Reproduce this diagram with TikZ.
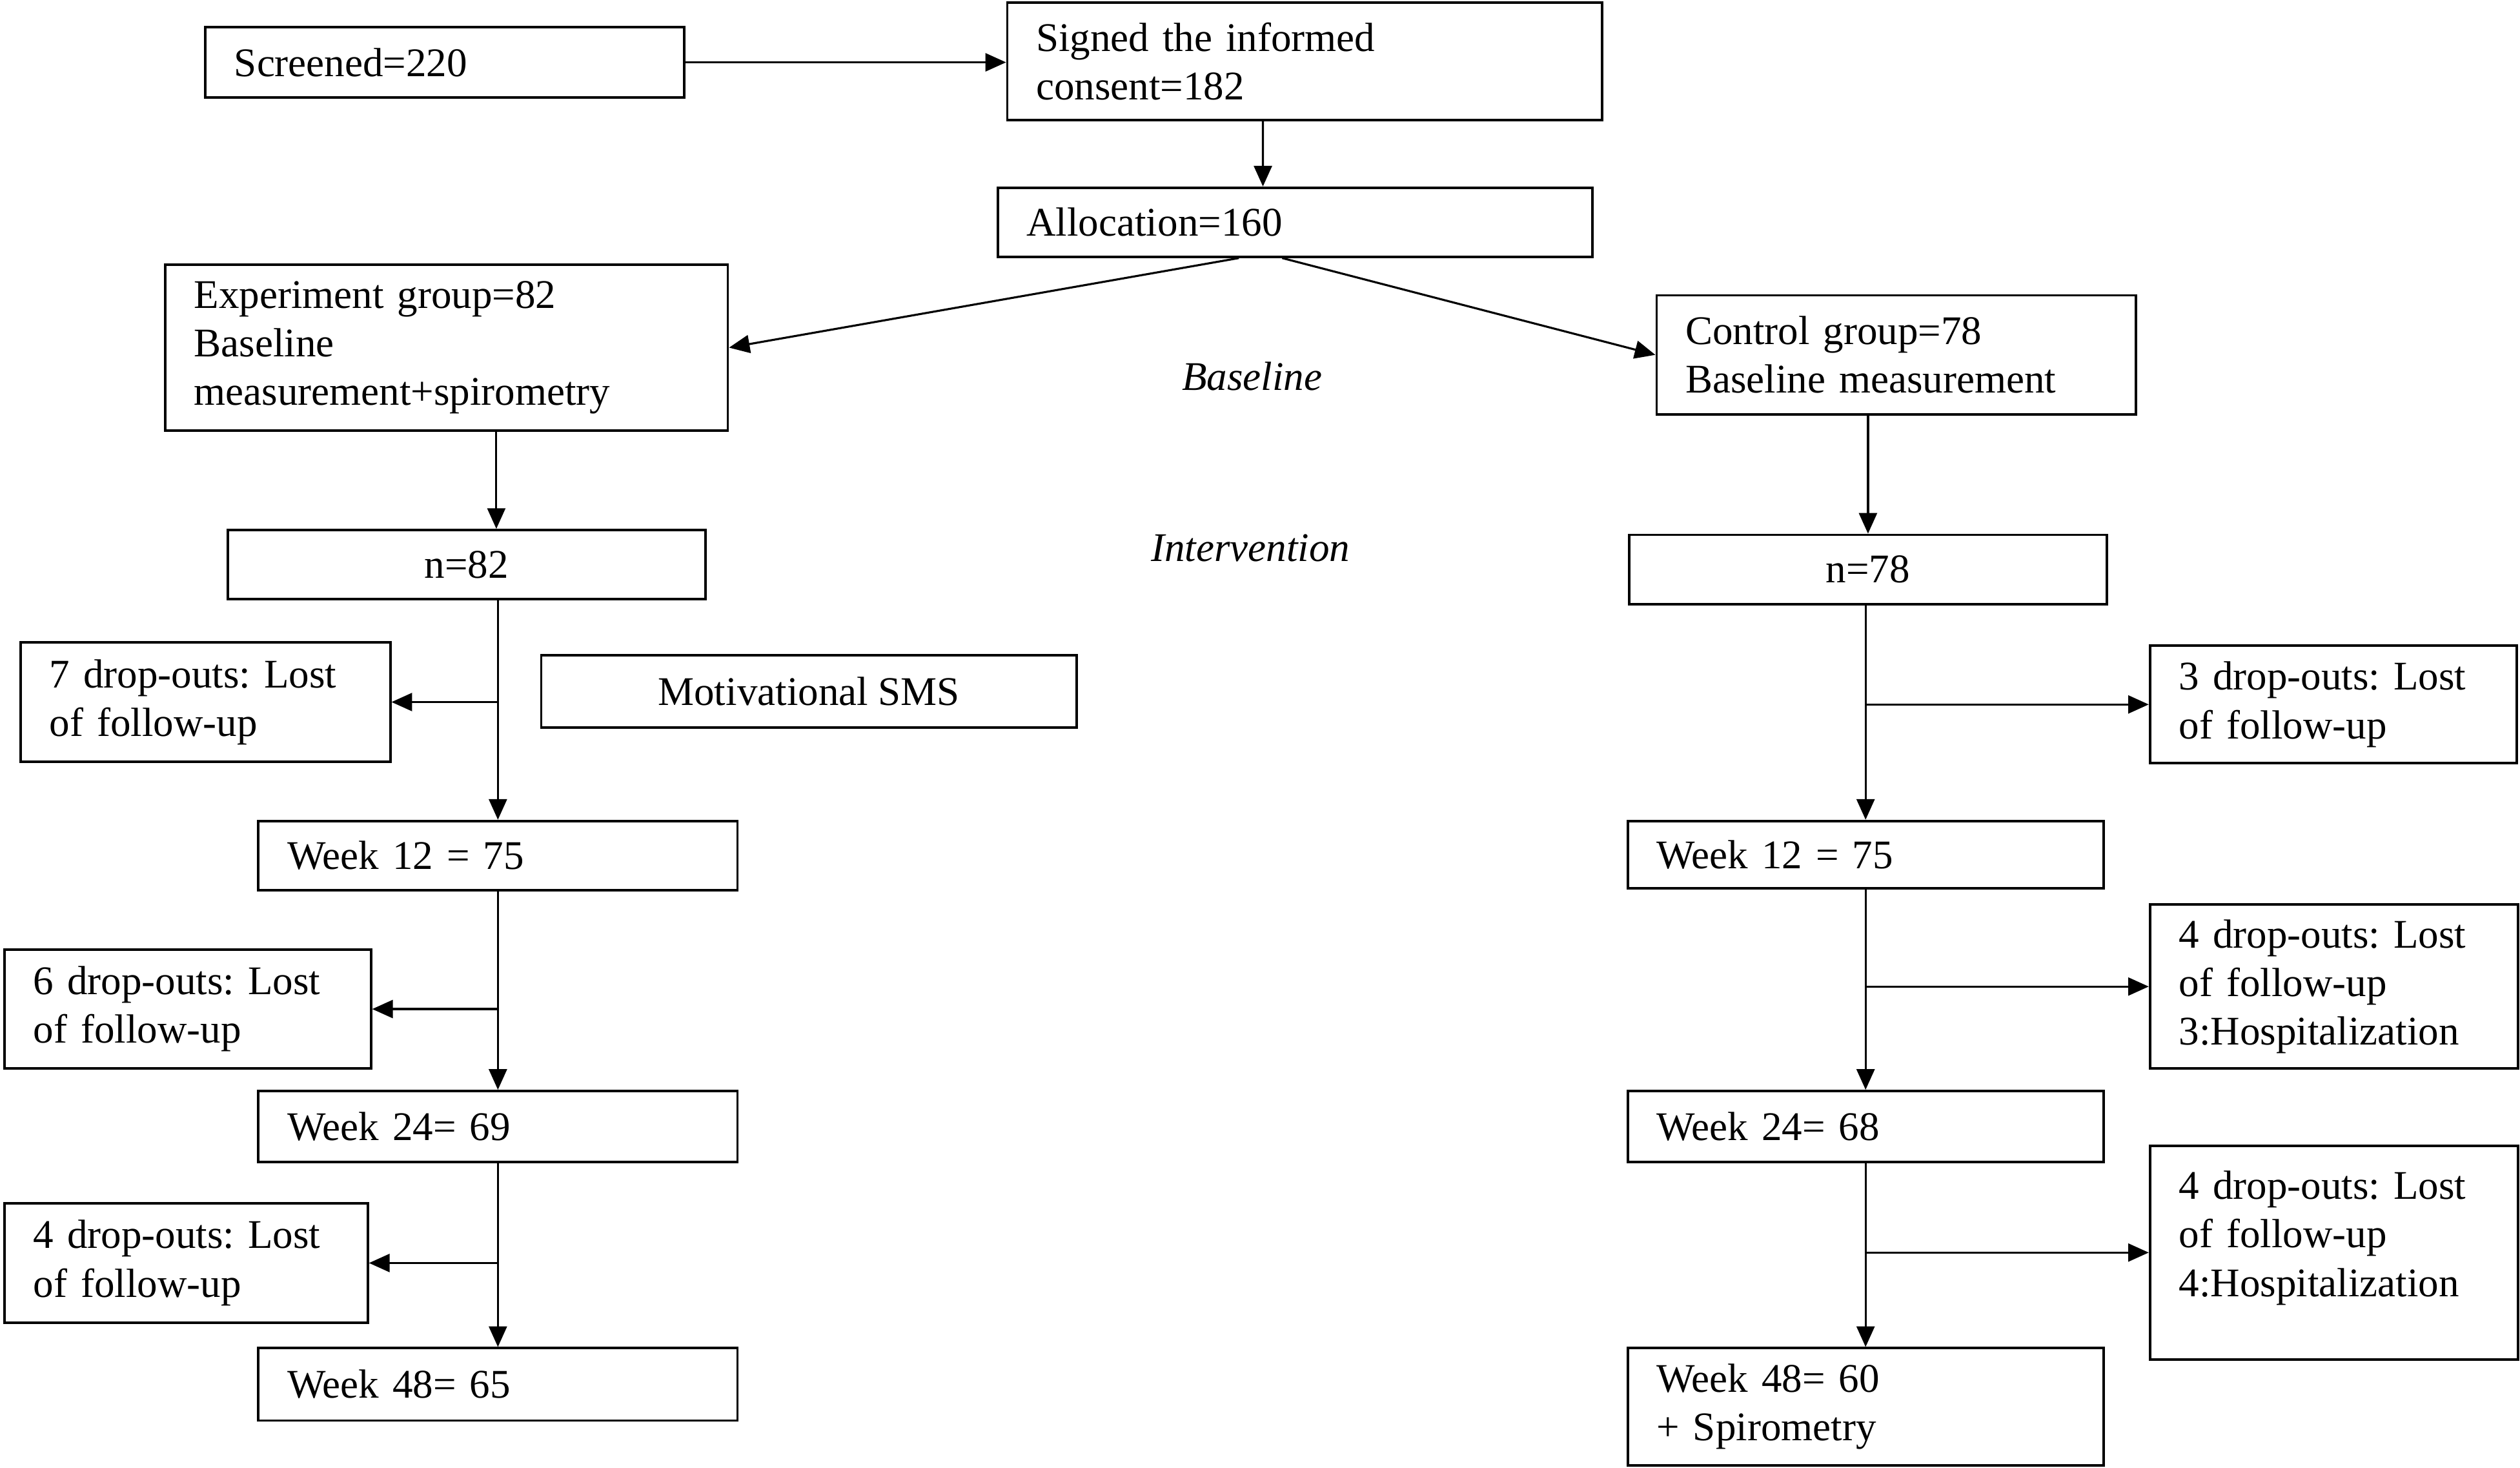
\documentclass[tikz,border=0pt]{standalone}
\usepackage{fontspec}
\setmainfont{Liberation Serif}
\usetikzlibrary{arrows.meta}
\frenchspacing

\begin{document}
\begin{tikzpicture}[x=0.025cm,y=-0.025cm,
  font=\fontsize{18}{21.5}\selectfont,
  box/.style={draw,line width=1.1pt,anchor=north west,align=left,inner xsep=0.45cm,inner ysep=0pt},
  cbox/.style={draw,line width=1.1pt,anchor=north west,align=center,inner sep=0pt},
  stage/.style={font=\fontsize{18}{21.5}\selectfont\itshape},
  arr/.style={line width=0.9pt,-{Triangle[length=0.32cm,width=0.28cm]}}]

\useasboundingbox (0,0) rectangle (1568,913);

%% enrolment
\node[box,text width=6.55cm,minimum height=1.1cm] (scr) at (127,16) {Screened=220};
\node[box,text width=8.35cm,minimum height=1.825cm] (sig) at (626,1) {Signed the informed\\consent=182};
\node[box,text width=8.35cm,minimum height=1.075cm] (alloc) at (620,116) {Allocation=160};
\node[box,text width=7.85cm,minimum height=2.575cm] (exp) at (102,164) {Experiment group=82\\Baseline\\measurement+spirometry};
\node[box,text width=6.55cm,minimum height=1.85cm] (ctl) at (1030,183) {Control group=78\\Baseline measurement};
\node[stage] (base) at (779,234) {Baseline};
\node[stage] (interv) at (778,341) {Intervention};

%% experiment arm
\node[cbox,minimum width=7.425cm,minimum height=1.075cm] (n82) at (141,329) {n=82};
\node[box,text width=4.85cm,minimum height=1.85cm] (drop7) at (12,399) {7 drop-outs: Lost\\of follow-up};
\node[cbox,minimum width=8.325cm,minimum height=1.125cm] (sms) at (336,407) {Motivational SMS};
\node[box,text width=6.55cm,minimum height=1.075cm] (wkA12) at (160,510) {Week 12 = 75};
\node[box,text width=4.8cm,minimum height=1.85cm] (drop6) at (2,590) {6 drop-outs: Lost\\of follow-up};
\node[box,text width=6.55cm,minimum height=1.1cm] (wkA24) at (160,678) {Week 24= 69};
\node[box,text width=4.75cm,minimum height=1.85cm] (drop4) at (2,748) {4 drop-outs: Lost\\of follow-up};
\node[box,text width=6.55cm,minimum height=1.125cm] (wkA48) at (160,838) {Week 48= 65};

%% control arm
\node[cbox,minimum width=7.425cm,minimum height=1.075cm] (n78) at (1013,332) {n=78};
\node[box,text width=4.8cm,minimum height=1.825cm] (drop3) at (1337,401) {3 drop-outs: Lost\\of follow-up};
\node[box,text width=6.5cm,minimum height=1.05cm] (wkB12) at (1012,510) {Week 12 = 75};
\node[box,text width=4.825cm,minimum height=2.55cm] (drop4a) at (1337,562) {4 drop-outs: Lost\\of follow-up\\3:Hospitalization};
\node[box,text width=6.5cm,minimum height=1.1cm] (wkB24) at (1012,678) {Week 24= 68};
\node[box,text width=4.825cm,minimum height=3.325cm] (drop4b) at (1337,712) {4 drop-outs: Lost\\of follow-up\\4:Hospitalization\\[-0.17cm]~};
\node[box,text width=6.5cm,minimum height=1.825cm] (wkB48) at (1012,838) {Week 48= 60\\+ Spirometry};

%%% arrows
\draw[arr] (scr.east) -- (scr.east -| sig.west);
\draw[arr] ([xshift=-0.65cm]sig.south) -- ([xshift=-0.5cm]alloc.north);
\draw[arr] ([xshift=-0.875cm]alloc.south) -- (exp.east);
\draw[arr] ([xshift=-0.2cm]alloc.south) -- (ctl.west);

\draw[arr] ([xshift=0.775cm]exp.south) -- ([xshift=0.775cm]exp.south |- n82.north);
\draw[arr] (n82.south -| wkA12) -- (wkA12.north);
\draw[arr] (drop7.east -| wkA12) -- (drop7.east);
\draw[arr] (wkA12) -- (wkA24);
\draw[arr] (drop6.east -| wkA12) -- (drop6.east);
\draw[arr] (wkA24) -- (wkA48);
\draw[arr] (drop4.east -| wkA24) -- (drop4.east);

\draw[arr] (ctl.south -| n78) -- (n78.north);
\draw[arr] (n78.south -| wkB12) -- (wkB12.north);
\draw[arr] (drop3.west -| wkB12) -- (drop3.west);
\draw[arr] (wkB12) -- (wkB24);
\draw[arr] (drop4a.west -| wkB12) -- (drop4a.west);
\draw[arr] (wkB24) -- (wkB48);
\draw[arr] (drop4b.west -| wkB24) -- (drop4b.west);

\end{tikzpicture}
\end{document}
